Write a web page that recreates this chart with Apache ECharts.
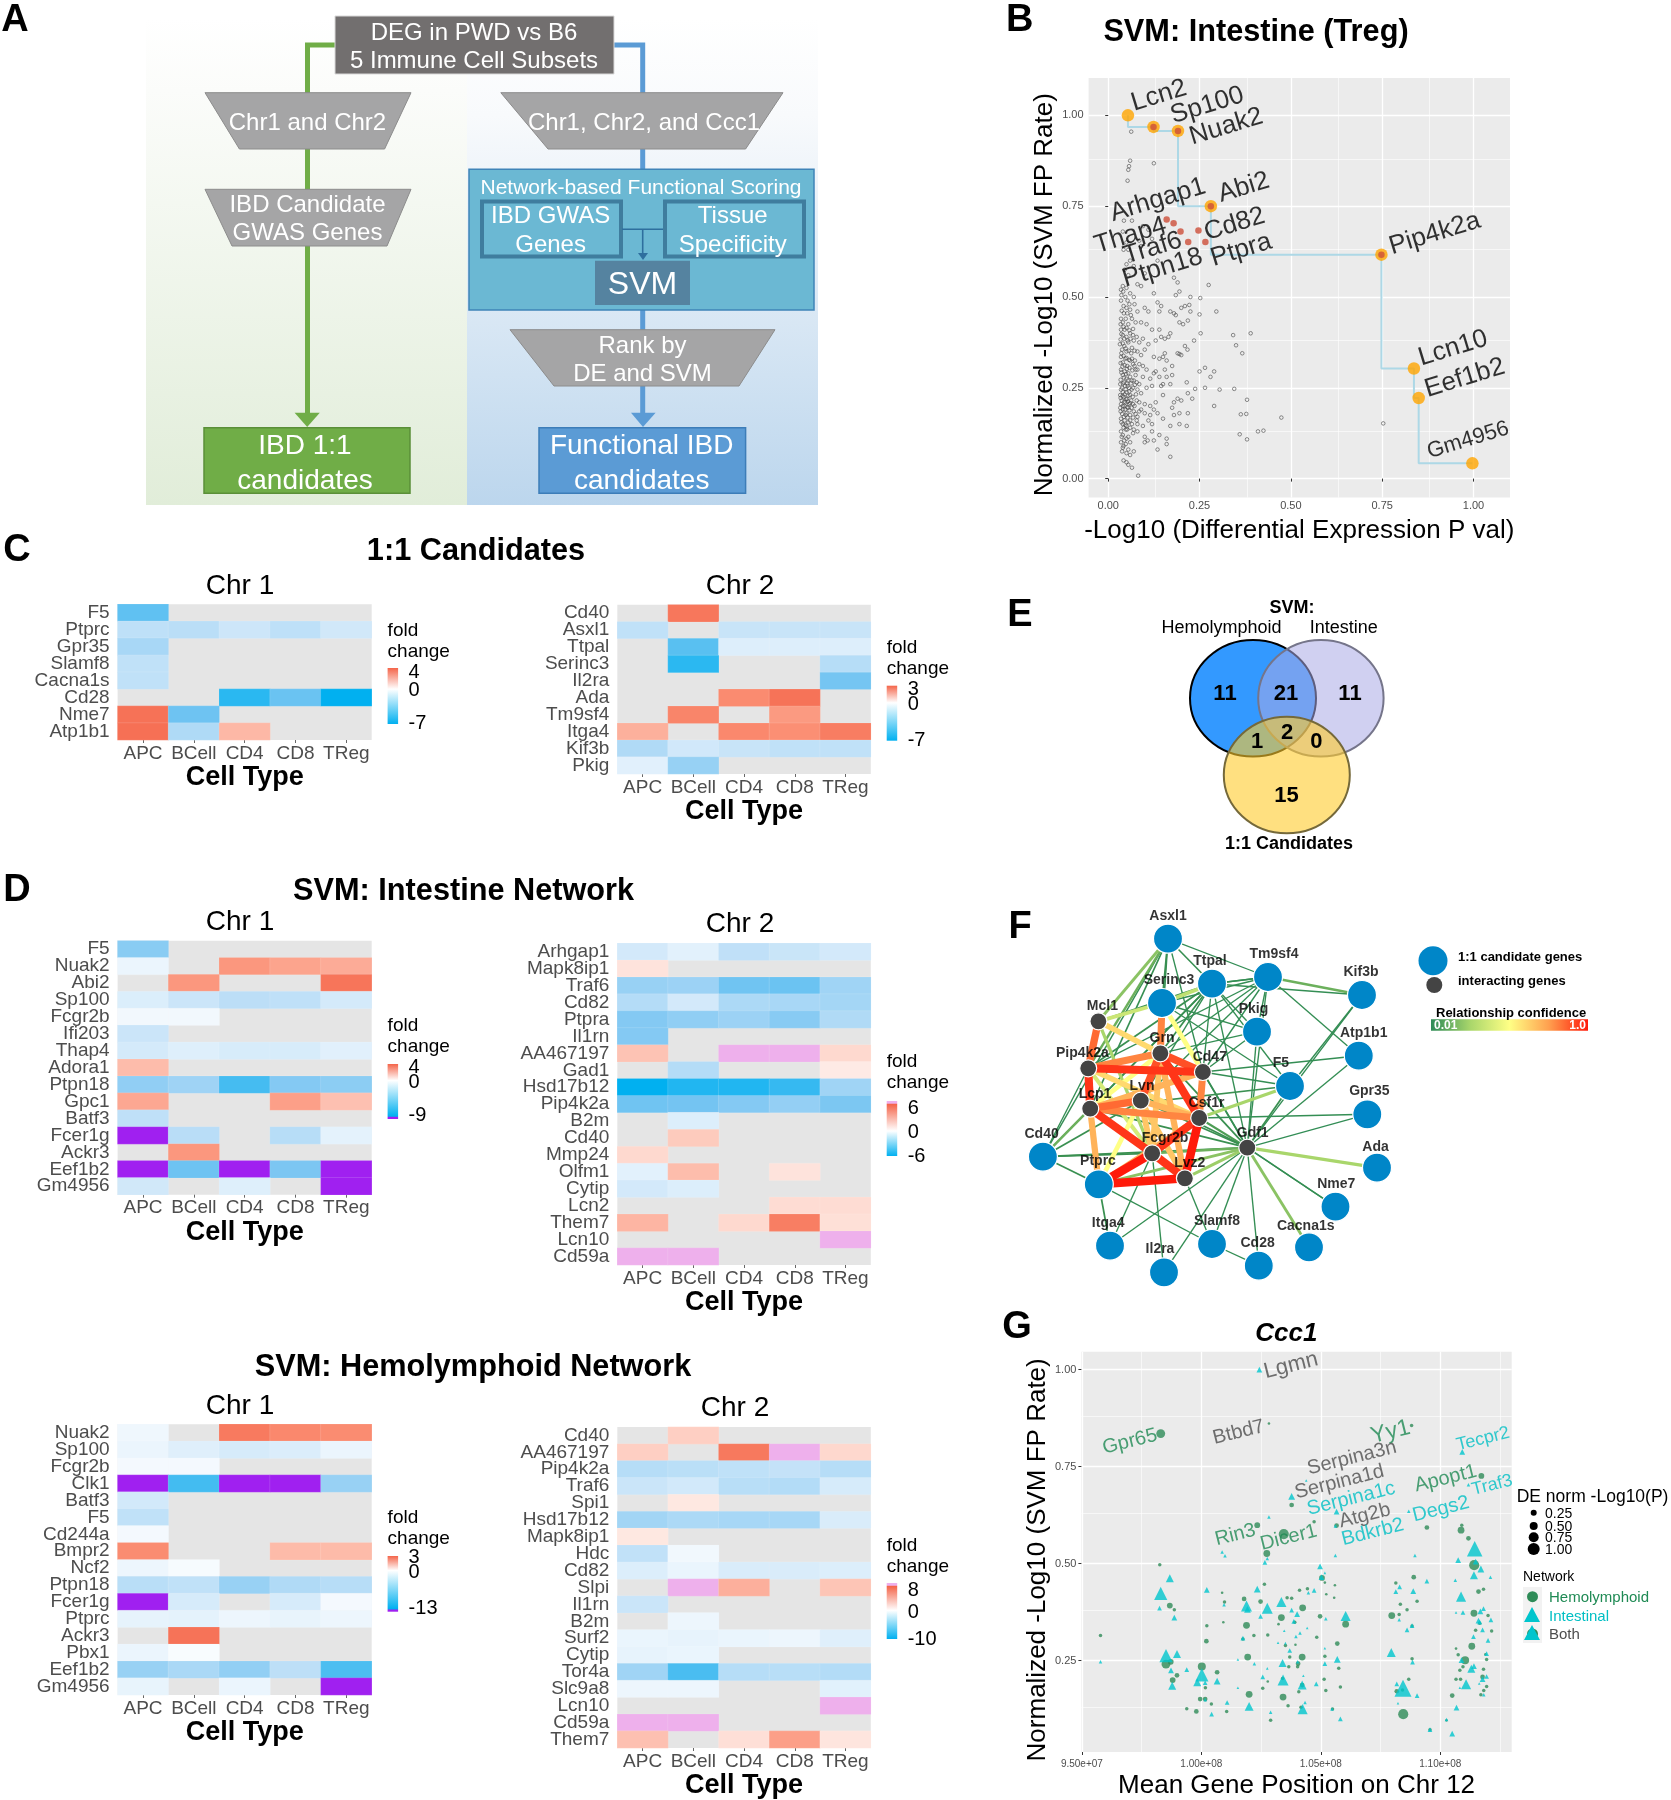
<!DOCTYPE html>
<html><head><meta charset="utf-8"><title>IBD candidates figure</title>
<script src="https://cdn.jsdelivr.net/npm/echarts@6/dist/echarts.min.js"></script>
<style>html,body{margin:0;padding:0;background:#fff}#c{width:1671px;height:1800px}</style>
</head><body><div id="c"></div>
<script>
const N = null;
const cellTypes = ['APC','BCell','CD4','CD8','TReg'];

// ---- C: 1:1 candidates
const c1Genes = ['F5','Ptprc','Gpr35','Slamf8','Cacna1s','Cd28','Nme7','Atp1b1'];
const c1Fold = [[-4.3,N,N,N,N],[-1.6,-1.7,-1.2,-1.6,-1.1],[-2.2,N,N,N,N],[-1.5,N,N,N,N],[-1.5,N,N,N,N],[N,N,-5.8,-4,-7],[3.5,-3.9,N,N,N],[3.6,-2,1.4,N,N]];
const c2Genes = ['Cd40','Asxl1','Ttpal','Serinc3','Il2ra','Ada','Tm9sf4','Itga4','Kif3b','Pkig'];
const c2Fold = [[N,2.5,N,N,N],[-1.5,N,-1.3,-1.3,-1.3],[N,-4.5,-.8,-.8,-.8],[N,-5.8,N,N,-1.8],[N,N,N,N,-3.7],[N,N,1.9,2.6,N],[N,2.1,N,1.6,N],[1.2,N,2,1.8,2.3],[-2,-1.1,-1.3,-1.5,-1.5],[-.7,-2.7,N,N,N]];
// ---- D: intestine network
const d1Genes = ['F5','Nuak2','Abi2','Sp100','Fcgr2b','Ifi203','Thap4','Adora1','Ptpn18','Gpc1','Batf3','Fcer1g','Ackr3','Eef1b2','Gm4956'];
const d1Fold = [[-4,N,N,N,N],[-.6,N,2.2,1.9,1.7],[N,2.2,N,N,3.4],[-1.1,-1.6,-2.1,-2,-1.3],[-.4,-.4,N,N,N],[-1.6,N,N,N,N],[-1.3,-1,-1.2,-1.2,-.9],[1.3,N,N,N,N],[-3.7,-3.2,-6.5,-4.2,-3.9],[1.8,N,N,2,1.2],[-2,N,N,N,N],[-11,-2.2,N,-2.3,-.8],[N,2.2,N,N,N],[-11,-5,-11,-4.5,-11],[-1.4,N,-1,N,-11]];
const d2Genes = ['Arhgap1','Mapk8ip1','Traf6','Cd82','Ptpra','Il1rn','AA467197','Gad1','Hsd17b12','Pip4k2a','B2m','Cd40','Mmp24','Olfm1','Cytip','Lcn2','Them7','Lcn10','Cd59a'];
const d2Fold = [[-.9,-.6,-1.3,-1.1,-.9],[.8,N,N,N,N],[-2.3,-2.2,-3.3,-3.4,-2.1],[-1.6,-.9,-1.8,-1.9,-2],[-2.8,-2.5,-2.2,-2.7,-1.7],[-2.8,N,N,N,N],[1.7,N,8,8,1.1],[N,-1.6,N,N,.6],[-6,-5.2,-5.2,-4.7,-2.1],[-3.3,-3.2,-2.8,-2.4,-3],[N,-.7,N,N,N],[N,1.5,N,N,N],[1.1,N,N,N,N],[-.6,1.9,N,.8,N],[-.9,-.7,N,N,N],[N,N,N,1,1],[2.2,N,1.1,4.6,.9],[N,N,N,N,8],[8,8,N,N,N]];
// ---- D: hemolymphoid network
const h1Genes = ['Nuak2','Sp100','Fcgr2b','Clk1','Batf3','F5','Cd244a','Bmpr2','Ncf2','Ptpn18','Fcer1g','Ptprc','Ackr3','Pbx1','Eef1b2','Gm4956'];
const h1Fold = [[-.7,N,2.4,2,1.9],[-.9,-1.4,-1.8,-1.6,-.9],[-.5,-.5,N,N,N],[-16,-9.5,-16,-16,-5],[-2,N,N,N,N],[-2.8,N,N,N,N],[-.5,N,N,N,N],[1.9,N,N,1,1],[-.8,-.4,N,N,N],[-3.2,-2.8,-5,-3.7,-3.3],[-16,-1.8,N,-1.8,-.5],[-1.1,-1.2,-.8,-1,-.8],[N,2.6,N,N,N],[-.9,-.3,N,N,N],[-5,-4,-5.3,-3,-9],[-1,N,-.9,N,-16]];
const h2Genes = ['Cd40','AA467197','Pip4k2a','Traf6','Spi1','Hsd17b12','Mapk8ip1','Hdc','Cd82','Slpi','Il1rn','B2m','Surf2','Cytip','Tor4a','Slc9a8','Lcn10','Cd59a','Them7'];
const h2Fold = [[N,1.8,N,N,N],[1.8,N,6.5,11,1.5],[-2.6,-2.4,-2.2,-2,-2.6],[-1.8,-1.5,-2.5,-2.7,-1.4],[N,.9,N,N,N],[-3.4,-3,-3.2,-3.2,-1.3],[.9,N,N,N,N],[-2.1,-.5,N,N,N],[-1.2,-.7,-1.3,-1.3,-1.2],[N,11,3.2,N,2.2],[-1.8,N,N,N,N],[N,-.6,N,N,N],[-.7,-.8,-.7,-.6,-1.1],[-.8,-.7,N,N,N],[-3.5,-7,-2.6,-2.5,-2.7],[-.6,-.6,N,N,-1],[N,N,N,N,11],[11,11,N,N,N],[2.4,N,1.2,4,1]];

// ---- B: SVM scatter
const bFrontier = [[.054,1.0],[.124,.968],[.191,.957],[.281,.75],[.748,.6165],[.837,.303],[.85,.222],[.997,.042]];
const bFrontierRed = [[.124,.968],[.191,.957],[.281,.75],[.748,.6165],[.16,.713],[.179,.703],[.198,.68],[.247,.683],[.219,.651],[.266,.651]];
const bLabels = [['Lcn2',.139,1.054],['Sp100',.271,1.027],['Nuak2',.323,.969],['Abi2',.371,.801],['Arhgap1',.136,.767],['Thap4',.061,.669],['Cd82',.346,.70],['Traf6',.122,.634],['Ptpra',.364,.629],['Ptpn18',.149,.58],['Pip4k2a',.894,.674],['Lcn10',.944,.359],['Eef1b2',.976,.277],['Gm4956',.985,.106,null,22]];
const bCloud = [[.063,.955],[.06,.875],[.057,.86],[.055,.85],[.053,.82],[.125,.868],[.043,.71],[.065,.71],[.04,.68],[.095,.695],[.11,.685],[.09,.64],[.05,.65],[.085,.655],[.055,.63],[.042,.63],[.12,.66],[.135,.60],[.06,.60],[.05,.59],[.07,.585],[.045,.575],[.055,.56],[.1,.565],[.18,.553],[.19,.54],[.275,.533],[.04,.53],[.05,.525],[.035,.52],[.06,.51],[.07,.50],[.08,.535],[.09,.53],[.125,.51],[.185,.505],[.195,.515],[.225,.5],[.252,.497],[.135,.485],[.145,.475],[.17,.46],[.18,.455],[.185,.45],[.2,.47],[.21,.475],[.222,.478],[.225,.46],[.25,.452],[.296,.46],[.035,.49],[.042,.475],[.05,.47],[.06,.465],[.072,.48],[.08,.46],[.1,.47],[.11,.46],[.14,.46],[.035,.44],[.04,.43],[.048,.44],[.055,.425],[.065,.44],[.075,.43],[.09,.43],[.105,.425],[.12,.41],[.14,.41],[.145,.39],[.155,.385],[.165,.39],[.17,.4],[.195,.43],[.205,.425],[.218,.435],[.253,.4],[.342,.395],[.39,.4],[.35,.367],[.367,.345],[.21,.365],[.217,.355],[.235,.38],[.035,.41],[.04,.395],[.045,.41],[.05,.39],[.06,.4],[.07,.38],[.078,.39],[.085,.375],[.095,.385],[.11,.37],[.13,.38],[.032,.37],[.038,.355],[.044,.365],[.05,.35],[.055,.375],[.065,.36],[.08,.35],[.09,.34],[.1,.355],[.125,.335],[.14,.33],[.15,.335],[.155,.345],[.16,.325],[.19,.345],[.195,.343],[.2,.34],[.035,.335],[.04,.32],[.047,.33],[.052,.31],[.06,.325],[.068,.315],[.075,.3],[.085,.315],[.095,.31],[.105,.3],[.13,.295],[.14,.28],[.155,.3],[.175,.31],[.265,.305],[.25,.295],[.29,.295],[.035,.3],[.04,.285],[.045,.295],[.05,.275],[.055,.29],[.06,.28],[.065,.27],[.075,.285],[.085,.26],[.095,.28],[.115,.275],[.125,.29],[.16,.28],[.175,.285],[.28,.28],[.033,.26],[.038,.25],[.043,.265],[.048,.245],[.053,.255],[.058,.24],[.068,.25],[.08,.245],[.09,.235],[.105,.25],[.12,.255],[.145,.255],[.15,.26],[.17,.26],[.215,.265],[.265,.25],[.238,.247],[.305,.245],[.345,.247],[.033,.23],[.037,.215],[.042,.225],[.047,.21],[.052,.22],[.057,.205],[.063,.215],[.072,.2],[.085,.21],[.1,.205],[.115,.2],[.13,.21],[.15,.23],[.18,.21],[.19,.22],[.2,.215],[.218,.235],[.23,.22],[.38,.217],[.033,.195],[.04,.19],[.045,.2],[.05,.18],[.055,.195],[.06,.175],[.07,.185],[.08,.17],[.09,.19],[.1,.18],[.115,.175],[.125,.19],[.135,.18],[.175,.195],[.18,.175],[.195,.18],[.29,.2],[.218,.18],[.363,.177],[.378,.178],[.474,.168],[.035,.165],[.04,.15],[.045,.16],[.05,.145],[.055,.155],[.065,.15],[.08,.15],[.095,.145],[.11,.16],[.12,.15],[.15,.165],[.17,.145],[.195,.15],[.215,.145],[.753,.152],[.035,.13],[.04,.12],[.048,.135],[.055,.115],[.068,.125],[.08,.13],[.1,.115],[.108,.105],[.12,.13],[.14,.12],[.16,.11],[.36,.122],[.41,.13],[.425,.132],[.38,.108],[.035,.1],[.04,.085],[.048,.095],[.055,.08],[.07,.075],[.1,.1],[.125,.105],[.16,.095],[.135,.08],[.17,.06],[.042,.05],[.05,.045],[.06,.065],[.065,.03],[.082,.008],[.055,.038],
[.036,.505],[.041,.515],[.047,.5],[.053,.49],[.058,.48],[.043,.455],[.037,.462],[.052,.455],[.062,.45],[.034,.425],[.042,.418],[.05,.415],[.058,.408],[.068,.412],[.036,.398],[.044,.385],[.053,.38],[.061,.385],[.068,.395],[.034,.383],[.04,.372],[.048,.358],[.056,.352],[.063,.345],[.072,.352],[.036,.345],[.042,.338],[.05,.332],[.057,.327],[.065,.33],[.073,.325],[.034,.318],[.039,.308],[.045,.312],[.051,.302],[.058,.305],[.066,.298],[.072,.31],[.08,.3],[.036,.292],[.043,.278],[.049,.288],[.054,.27],[.062,.262],[.07,.27],[.078,.265],[.034,.272],[.04,.262],[.046,.255],[.052,.262],[.057,.25],[.064,.245],[.073,.258],[.035,.245],[.04,.238],[.045,.232],[.05,.238],[.055,.228],[.06,.23],[.067,.225],[.076,.232],[.034,.222],[.039,.228],[.044,.212],[.049,.218],[.054,.212],[.06,.208],[.068,.205],[.078,.215],[.035,.205],[.04,.2],[.046,.19],[.052,.197],[.058,.188],[.064,.195],[.075,.178],[.085,.185],[.034,.185],[.038,.178],[.043,.17],[.048,.175],[.053,.168],[.06,.16],[.068,.168],[.078,.16],[.036,.155],[.042,.14],[.047,.148],[.052,.135],[.06,.14],[.07,.135],[.037,.115],[.044,.105],[.05,.11],[.06,.1],[.042,.09],[.038,.075],[.05,.07]];

// ---- F: network
const fNodes = [['Asxl1',168,48.7,1],['Ttpal',212,93.7,1],['Tm9sf4',268,87,1],['Serinc3',162,113,1],['Kif3b',362,105,1],['Pkig',257,141.7,1],['Atp1b1',358.8,165.7,1],['F5',290,196,1],['Gpr35',367.3,224.3,1],['Ada',377,277.7,1],['Cd40',42.9,266.7,1],['Ptprc',98.8,294.3,1],['Nme7',335.5,316.7,1],['Itga4',110,355.7,1],['Il2ra',164,382.3,1],['Slamf8',212,354,1],['Cd28',258.8,375.7,1],['Cacna1s',309,357.3,1],['Mcl1',98.4,131.3,0],['Grn',160.4,163.3,0],['Pip4k2a',88.2,178.3,0],['Cd47',202.9,182,0],['Lvn',140.8,210.7,0],['Lcp1',90.2,218.7,0],['Csf1r',199.2,228,0],['Gdf1',247.3,257.7,0],['Fcgr2b',152.2,263.3,0],['Lvz2',184.9,288.3,0]];
const fLabels = [['Asxl1',168,26],['Ttpal',210,70.7],['Tm9sf4',274,64],['Serinc3',169,90],['Kif3b',361,82],['Pkig',253.5,119],['Mcl1',102.4,116],['Atp1b1',363.7,143.3],['Grn',162,148],['Pip4k2a',82.4,163.3],['Cd47',209.8,166.7],['F5',280.8,172.7],['Gpr35',369.4,201.3],['Lcp1',95,204],['Lvn',142,195.7],['Csf1r',206.5,213.3],['Gdf1',252.7,242.7],['Cd40',41.6,243.7],['Fcgr2b',165,248.3],['Ada',375.5,256.7],['Ptprc',98,271.3],['Lvz2',189.8,273.3],['Nme7',336.3,294],['Itga4',108.2,333],['Slamf8',217,331],['Cacna1s',305.7,336],['Cd28',257.6,352.7],['Il2ra',160,359.3]];
const fEdges = [['Gdf1','Nme7',.08],['Gdf1','Nme7',.05],['Gdf1','Cd28',.05],['Gdf1','Il2ra',.05],['Gdf1','Itga4',.05],['Gdf1','Csf1r',.15],['Gdf1','Cd40',.1],['Gdf1','Grn',.1],['Gdf1','Lcp1',.1],['Gdf1','Pip4k2a',.1],['Gdf1','Lvn',.1],['Gdf1','Atp1b1',.05],['Gdf1','Gpr35',.03],['Gdf1','Kif3b',.04],['Gdf1','Cd47',.1],['Gdf1','Ttpal',.05],['Gdf1','Serinc3',.05],['Gdf1','Pkig',.05],['Gdf1','Slamf8',.05],['Gdf1','Tm9sf4',.05],['Gdf1','F5',.1],
['Asxl1','Serinc3',.1],['Asxl1','Ttpal',.08],['Asxl1','Tm9sf4',.04],['Asxl1','Cd40',.06],['Asxl1','Grn',.08],['Asxl1','Cd47',.05],['Asxl1','Lcp1',.08],['Ttpal','Kif3b',.05],['Ttpal','Tm9sf4',.05],['Ttpal','Tm9sf4',.06],['Ttpal','Mcl1',.1],['Ttpal','Pkig',.05],['Ttpal','Pip4k2a',.1],['Ttpal','Lcp1',.1],['Ttpal','Grn',.1],['Ttpal','Lvn',.05],['Ttpal','Cd47',.05],['Ttpal','F5',.05],['Ttpal','Cd40',.08],['Tm9sf4','Kif3b',.2],['Tm9sf4','Pkig',.05],['Tm9sf4','Atp1b1',.05],['Tm9sf4','Grn',.05],['Tm9sf4','Lvn',.05],['Tm9sf4','Serinc3',.05],['Tm9sf4','Pip4k2a',.05],['Tm9sf4','Cd47',.05],['Kif3b','F5',.05],['Pkig','Cd47',.05],['Pkig','Serinc3',.05],['Pkig','Grn',.05],['F5','Cd47',.05],['F5','Serinc3',.05],['F5','Lcp1',.1],['Atp1b1','Cd47',.05],['Gpr35','Csf1r',.05],['Cd40','Pip4k2a',.05],['Cd40','Ptprc',.1],['Cd40','Fcgr2b',.1],['Cd40','Lvn',.1],['Ptprc','Itga4',.1],['Ptprc','Slamf8',.05],['Itga4','Fcgr2b',.05],['Il2ra','Fcgr2b',.05],['Slamf8','Lvz2',.05],['Slamf8','Cd28',.05],
['Gdf1','Fcgr2b',.2],['Gdf1','Lvz2',.28],['Gdf1','Ptprc',.25],['Gdf1','Cacna1s',.25],['Gdf1','Ada',.3],['Cd40','Lcp1',.2],['Asxl1','Pip4k2a',.2],['Asxl1','Mcl1',.25],['Ttpal','Serinc3',.35],['F5','Csf1r',.3],['Mcl1','Serinc3',.38],['Mcl1','Fcgr2b',.3],['Pip4k2a','Fcgr2b',.4],['Grn','Lcp1',.5],['Lvn','Ptprc',.5],['Serinc3','Cd47',.5],['Mcl1','Grn',.6],['Pip4k2a','Csf1r',.6],['Lvn','Fcgr2b',.65],['Lvn','Lvz2',.65],['Grn','Fcgr2b',.65],['Grn','Lvz2',.7],['Lvn','Csf1r',.7],['Lcp1','Ptprc',.7],['Ptprc','Csf1r',.7],['Cd47','Lcp1',.7],['Pip4k2a','Grn',.8],['Cd47','Csf1r',.8],['Serinc3','Grn',.8],['Lcp1','Csf1r',.8],['Mcl1','Pip4k2a',.85],['Lcp1','Lvn',.85],['Grn','Cd47',.9],['Grn','Lvn',.9],['Pip4k2a','Cd47',.95],['Pip4k2a','Lcp1',.95],['Lcp1','Fcgr2b',.95],['Grn','Csf1r',.95],['Csf1r','Fcgr2b',.95],['Fcgr2b','Lvz2',.95],['Csf1r','Lvz2',1],['Fcgr2b','Ptprc',1],['Lvz2','Ptprc',1]];

// ---- G: Ccc1, [position Mb, normalized -log10 FP rate, DE norm]
const gHemo = [[98.30,.835,.46],[108.80,.856,.1],[102.83,.861,.04],[111.72,.726,.25],[102.34,.599,.25],[102.74,.526,.32],[103.45,.576,.54],[103.78,.651,.18],[104.72,.608,.1],[105.66,.598,.18],[109.44,.593,.18],[110.90,.599,.1],[110.87,.586,.32],[111.18,.565,.18],[111.42,.496,.54],[98.26,.497,.1],[108.89,.465,.18],[108.14,.450,.1],[102.64,.447,.1],[101.79,.409,.18],[100.87,.425,.04],[111.81,.434,.1],[111.60,.428,.18],[105.05,.463,.25],[105.17,.451,.04],[105.59,.444,.04],[105.23,.421,.04],[105.56,.412,.04],[104.44,.435,.1],[104.11,.431,.1],[103.59,.412,.1],[103.78,.411,.1],[104.24,.386,.32],[103.35,.361,.32],[104.97,.364,.18],[102.48,.402,.18],[100.97,.401,.1],[98.68,.392,.25],[98.87,.381,.1],[108.33,.395,.1],[108.61,.381,.1],[107.97,.366,.32],[108.28,.369,.1],[109.03,.403,.1],[111.41,.372,.32],[112.0,.366,.1],[111.48,.328,.1],[111.65,.346,.1],[106.04,.344,.32],[101.89,.341,.32],[100.23,.340,.1],[100.92,.349,.04],[103.91,.349,.1],[103.23,.344,.04],[108.82,.339,.1],[112.15,.326,.1],[100.21,.300,.18],[101.74,.306,.1],[102.20,.315,.1],[102.78,.316,.1],[104.83,.310,.1],[105.69,.294,.18],[95.78,.315,.1],[103.52,.289,.1],[103.94,.291,.04],[111.32,.287,.32],[110.66,.281,.04],[101.94,.259,.32],[104.22,.259,.32],[103.70,.259,.1],[105.17,.261,.1],[108.82,.255,.1],[110.75,.265,.1],[111.04,.251,.4],[111.94,.253,.1],[111.89,.266,.04],[98.52,.241,.46],[98.72,.247,.25],[100.02,.235,.4],[100.66,.220,.18],[98.98,.212,.18],[98.80,.200,.25],[104.05,.242,.18],[103.66,.234,.1],[104.03,.234,.1],[105.75,.230,.1],[110.95,.234,.1],[111.81,.228,.1],[110.82,.225,.1],[100.17,.180,.1],[99.95,.151,.18],[100.16,.151,.18],[100.42,.138,.1],[99.39,.126,.1],[99.79,.119,.18],[101.06,.119,.1],[102.0,.163,.32],[103.42,.156,.32],[103.40,.204,.1],[104.08,.170,.1],[103.63,.134,.1],[104.17,.130,.1],[104.22,.187,.18],[102.57,.179,.1],[102.78,.196,.04],[105.14,.202,.1],[105.21,.173,.1],[105.82,.182,.1],[105.49,.125,.1],[108.68,.202,.1],[108.18,.171,.18],[110.50,.160,.18],[110.66,.202,.1],[110.85,.202,.1],[111.77,.208,.18],[111.94,.183,.1],[111.82,.173,.1],[111.70,.162,.1],[108.45,.112,.54],[102.90,.096,.1],[110.26,.096,.04],[109.57,.072,.1],[108.42,.174,.1]];
const gIntest = [[102.43,1.0,.25],[110.92,.788,.25],[111.18,.703,.1],[103.78,.673,.32],[102.83,.620,.1],[104.39,.714,.04],[105.66,.634,.25],[108.68,.635,.1],[105.61,.597,.1],[100.87,.530,.1],[100.99,.520,.1],[102.76,.513,.1],[102.66,.503,.18],[105.61,.521,.1],[108.94,.521,.1],[111.44,.538,.9],[110.75,.509,.25],[111.48,.505,.25],[111.70,.486,.32],[111.41,.470,.4],[112.10,.465,.1],[110.63,.457,.1],[104.97,.493,.25],[98.68,.462,.4],[98.30,.423,.75],[98.25,.385,.18],[98.87,.361,.25],[105.17,.476,.04],[105.03,.465,.25],[109.44,.455,.18],[100.23,.432,.25],[104.72,.431,.18],[104.48,.425,.1],[102.34,.434,.32],[108.14,.428,.18],[108.30,.440,.18],[108.87,.429,.25],[110.87,.415,.54],[101.89,.391,.6],[101.93,.382,.32],[102.76,.385,.6],[103.35,.401,.54],[103.78,.380,.18],[104.01,.370,.25],[103.87,.351,.18],[102.48,.364,.18],[100.95,.394,.1],[105.21,.358,.1],[106.04,.365,.54],[110.66,.374,.04],[110.95,.374,.18],[111.68,.377,.25],[111.81,.384,.18],[111.60,.353,.25],[112.12,.355,.18],[111.65,.349,.18],[108.28,.355,.1],[108.61,.329,.18],[108.82,.340,.18],[111.77,.329,.18],[111.39,.312,.18],[112.0,.302,.18],[104.43,.334,.04],[104.13,.321,.1],[103.47,.327,.04],[103.96,.312,.1],[101.74,.308,.18],[103.21,.296,.04],[103.52,.295,.04],[103.70,.276,.18],[105.17,.282,.04],[107.95,.271,.46],[98.98,.267,.4],[98.52,.263,.75],[95.78,.247,.1],[101.53,.253,.04],[102.22,.242,.1],[103.40,.244,.4],[102.76,.230,.04],[104.03,.247,.1],[105.17,.242,.18],[105.69,.253,.32],[110.89,.251,.25],[111.41,.236,.25],[111.30,.229,.4],[111.94,.268,.18],[108.84,.246,.18],[98.73,.225,.25],[99.39,.227,.18],[100.02,.213,.75],[99.83,.194,.4],[100.16,.193,.18],[100.66,.197,.32],[98.78,.185,.4],[102.57,.208,.18],[103.42,.200,.6],[104.27,.211,.04],[104.22,.187,.46],[104.81,.190,.18],[101.53,.180,.04],[108.18,.190,.18],[108.44,.179,1],[109.03,.160,.18],[111.08,.189,.54],[111.77,.202,.25],[111.94,.209,.18],[110.82,.180,.04],[101.08,.142,.18],[100.16,.149,.1],[102.0,.132,.46],[100.43,.112,.18],[102.90,.117,.1],[104.24,.125,.54],[105.47,.125,.1],[104.34,.142,.1],[108.23,.140,.04],[110.68,.129,.25],[111.82,.162,.1],[105.82,.100,.18],[110.26,.098,.1],[109.57,.072,.18],[110.50,.062,.25],[111.63,.191,.04]];
const GTXT='#1f8a54', TTXT='#00bfc4', DTXT='#4d4d4d';
const gLabels = [['Lgmn',103.75,1.01,DTXT,22],['Btbd7',101.56,.838,DTXT,20],['Gpr65',97.01,.814,GTXT,20],['Yy1',107.92,.839,GTXT,23],['Serpina3n',106.30,.772,DTXT,20],['Tecpr2',111.79,.821,TTXT,18],['Serpina1d',105.78,.71,DTXT,20],['Apopt1',110.23,.719,GTXT,20],['Traf3',112.17,.702,TTXT,18],['Serpina1c',106.27,.667,TTXT,20],['Atg2b',106.84,.623,DTXT,20],['Degs2',110.03,.64,TTXT,20],['Rin3',101.42,.574,GTXT,20],['Dicer1',103.66,.567,GTXT,20],['Bdkrb2',107.17,.581,TTXT,20]];

// ---- layout of heat panels
const FONT = '"Liberation Sans"';
const BLUES=[[0,[255,255,255]],[.2,[196,226,248]],[.5,[124,198,242]],[1,[0,176,240]]];
const REDS=[[0,[255,255,255]],[.3,[253,192,176]],[.6,[251,143,116]],[1,[244,101,74]]];
const PINK='#eeb0ec', PURPLE='#a020f0', REDEND='rgb(244,101,74)', BLUEEND='rgb(0,176,240)';
const mix=(a,b,t)=>'rgb('+a.map((v,i)=>Math.round(v+(b[i]-v)*t)).join(',')+')';
function ramp(s,t){ for(let i=1;i<s.length;i++) if(t<=s[i][0]) return mix(s[i-1][1],s[i][1],(t-s[i-1][0])/(s[i][0]-s[i-1][0])); return mix(s[s.length-1][1],s[s.length-1][1],0); }
function colourAt(v,p){
  if(v>=0){ if(p.pink && v>p.hi+.6) return PINK; return ramp(REDS,Math.min(v/p.hi,1)); }
  if(p.purple && v<p.lo-.8) return PURPLE; return ramp(BLUES,Math.min(v/p.lo,1));
}
const panels = [
 {genes:c1Genes,fold:c1Fold,x:117.6,y:604.3,w:254.1,h:135.7,hi:4,lo:-7,barX:387.6,barY:668,barH:56,zf:.377,legY:629,ticks:[['4',670.7],['0',689],['-7',721.7]]},
 {genes:c2Genes,fold:c2Fold,x:617.3,y:604.7,w:253.5,h:169.3,hi:3,lo:-7,barX:886.7,barY:685.7,barH:55,zf:.31,legY:646,ticks:[['3',688],['0',702.7],['-7',739.3]]},
 {genes:d1Genes,fold:d1Fold,x:117.6,y:940.7,w:254.1,h:254,hi:4,lo:-9,purple:1,barX:387.6,barY:1064,barH:55,zf:.30,legY:1024,ticks:[['4',1066],['0',1080.7],['-9',1114.3]]},
 {genes:d2Genes,fold:d2Fold,x:617.3,y:943.3,w:253.5,h:321.7,hi:6,lo:-6,pink:1,barX:886.7,barY:1101,barH:55,zf:.545,legY:1060.7,ticks:[['6',1106.7],['0',1131],['-6',1155]]},
 {genes:h1Genes,fold:h1Fold,x:117.6,y:1424.3,w:254.1,h:270.7,hi:3,lo:-13,purple:1,barX:387.6,barY:1556,barH:55.7,zf:.26,legY:1516.3,ticks:[['3',1555.7],['0',1570.7],['-13',1607.3]]},
 {genes:h2Genes,fold:h2Fold,x:617.3,y:1427,w:253.5,h:321.3,hi:8,lo:-10,pink:1,barX:886.7,barY:1583,barH:56,zf:.49,legY:1544.7,ticks:[['8',1588.7],['0',1610.7],['-10',1637.7]]}
];
const sectionTitles=[['1:1 Candidates',476,549],['SVM: Intestine Network',463.6,889],['SVM: Hemolymphoid Network',473,1365]];
const chrTitles=[['Chr 1',240,584],['Chr 2',740,584],['Chr 1',240,920.7],['Chr 2',740,922],['Chr 1',240,1404],['Chr 2',735,1406]];
const panelLetters=[['A',15,18],['B',1019.6,18],['C',17,548],['D',17,888],['E',1020,613],['F',1020,925],['G',1017,1325]];

// ---- graphic helpers
function T(text,x,y,size,o){o=o||{};
  return {type:'text',x:x,y:y+size*.07,rotation:o.rot||0,silent:true,z:o.z||50,style:{text:text,fill:o.fill||'#000',
    font:(o.italic?'italic ':'')+(o.bold?'bold ':'')+size+'px '+FONT,
    align:o.align||'center',verticalAlign:'middle',textAlign:o.align||'center',textVerticalAlign:'middle'}};
}
const P=(pts,fill,stroke,lw,z)=>({type:'polygon',silent:true,z:z||10,shape:{points:pts},style:{fill:fill,stroke:stroke||null,lineWidth:lw||0}});
const R=(x,y,w,h,fill,stroke,lw,z)=>({type:'rect',silent:true,z:z||10,shape:{x:x,y:y,width:w,height:h},style:{fill:fill,stroke:stroke||null,lineWidth:lw||0}});
const L=(pts,stroke,lw,z)=>({type:'polyline',silent:true,z:z||8,shape:{points:pts},style:{fill:null,stroke:stroke,lineWidth:lw}});
const E=(cx,cy,rx,ry,fill,stroke,lw,z)=>({type:'ellipse',silent:true,z:z,shape:{cx:cx,cy:cy,rx:rx,ry:ry},style:{fill:fill,stroke:stroke,lineWidth:lw}});
const grad=(stops,hor)=>({type:'linear',x:0,y:0,x2:hor?1:0,y2:hor?0:1,colorStops:stops.map(s=>({offset:s[0],color:s[1]}))});

const g=[];
panelLetters.forEach(a=>g.push(T(a[0],a[1],a[2],38,{bold:true})));
sectionTitles.forEach(a=>g.push(T(a[0],a[1],a[2],30.7,{bold:true})));
chrTitles.forEach(a=>g.push(T(a[0],a[1],a[2],28)));
panels.forEach(p=>{
  g.push(T('fold',p.barX,p.legY,19,{align:'left'}),T('change',p.barX,p.legY+21,19,{align:'left'}));
  const stops=[];
  if(p.pink) stops.push([0,PINK],[.04,PINK],[.06,REDEND]); else stops.push([0,REDEND]);
  stops.push([p.zf,'#fff']);
  if(p.purple) stops.push([.95,BLUEEND],[.97,PURPLE],[1,PURPLE]); else stops.push([1,BLUEEND]);
  g.push(R(p.barX,p.barY,10.5,p.barH,grad(stops)));
  p.ticks.forEach(t=>g.push(T(t[0],p.barX+21,t[1],20,{align:'left'})));
});

// panel A
g.push(R(146,18,321,487,grad([[0,'#ffffff'],[.15,'#fbfcfa'],[1,'#e1edd9']]),null,0,1));
g.push(R(467,18,351,487,grad([[0,'#ffffff'],[.2,'#f8fafc'],[1,'#bcd6ed']]),null,0,1));
const GRN='#70ad47', BLU='#5b9bd5', TRP='#a5a5a6';
g.push(L([[335,45],[307.5,45],[307.5,415]],GRN,5),P([[294.6,412.7],[319.8,412.7],[307.2,427]],GRN));
g.push(L([[614,45],[642.7,45],[642.7,415]],BLU,5),P([[631,412.7],[655.6,412.7],[643,427]],BLU));
g.push(R(335,16,279,58,'#726f6f','#d9d9d9',1),T('DEG in PWD vs B6',474,32,24,{fill:'#fff'}),T('5 Immune Cell Subsets',474,60,24,{fill:'#fff'}));
g.push(P([[205,92.7],[411,92.7],[384.6,149],[239.4,149]],TRP,'#8c8c8c',1),T('Chr1 and Chr2',307.5,121.7,24,{fill:'#fff'}));
g.push(P([[205,189.3],[411,189.3],[387,246],[232,246]],TRP,'#8c8c8c',1),T('IBD Candidate',307.5,204,24,{fill:'#fff'}),T('GWAS Genes',307.5,232,24,{fill:'#fff'}));
g.push(P([[500.8,92.7],[783,92.7],[745.6,149],[548,149]],TRP,'#8c8c8c',1),T('Chr1, Chr2, and Ccc1',644,121.7,24,{fill:'#fff'}));
g.push(R(469,169.3,345,140.7,'#6bb8d3','#3f84b8',1.5,12),T('Network-based Functional Scoring',641,186.7,21,{fill:'#fff'}));
g.push(R(482,201.5,139,55,'#6bb8d3','#3f7d9e',4,13),T('IBD GWAS',550.6,215,24,{fill:'#fff'}),T('Genes',550.6,243.3,24,{fill:'#fff'}));
g.push(R(665,201.5,139,55,'#6bb8d3','#3f7d9e',4,13),T('Tissue',732.7,215,24,{fill:'#fff'}),T('Specificity',732.7,243.3,24,{fill:'#fff'}));
g.push(L([[622,229.3],[663,229.3]],'#2e6f9e',1.6,14),L([[642.7,229.3],[642.7,255]],'#2e6f9e',1.6,14),P([[638,253],[648,253],[643,260]],'#2e6f9e',null,0,14));
g.push(R(595,260.7,95,44.3,'#5583a0',null,0,13),T('SVM',642.5,283,32,{fill:'#fff'}));
g.push(P([[510,329.7],[775,329.7],[739,386],[554,386]],TRP,'#8c8c8c',1),T('Rank by',642.5,345,24,{fill:'#fff'}),T('DE and SVM',642.5,372.7,24,{fill:'#fff'}));
g.push(R(204,427.7,206,65.6,GRN,'#5a8f38',1.5),T('IBD 1:1',305,444,28,{fill:'#fff'}),T('candidates',305,479,28,{fill:'#fff'}));
g.push(R(539,427.7,206.6,65.6,BLU,'#3d7db8',1.5),T('Functional IBD',641.7,444,28,{fill:'#fff'}),T('candidates',641.7,479,28,{fill:'#fff'}));

g.push(T('SVM: Intestine (Treg)',1256,30,30.7,{bold:true}));

// panel E: Venn
g.push(E(1253,698.3,63,58.3,'#3399ff','#000',2,20));
g.push(E(1320.9,698.3,62.7,58.3,'rgba(170,170,230,.55)','#75758a',2,21));
g.push(E(1286.8,775,63,58.3,'rgba(255,203,43,.6)','#75693a',2,22));
[['11',1225,692.7],['21',1286,692.7],['11',1350,692.7],['1',1257,740.7],['2',1287,731.7],['0',1316.3,740.7],['15',1286.5,794]].forEach(a=>g.push(T(a[0],a[1],a[2],22,{bold:true})));
g.push(T('SVM:',1292,606.7,18,{bold:true}),T('Hemolymphoid',1221.6,627,18),T('Intestine',1343.7,627,18),T('1:1 Candidates',1289,843,18,{bold:true}));

// panel F legend
const ecol=[[0,'#2e8b57'],[.25,'#a9d66b'],[.5,'#ffff85'],[.75,'#ffa04f'],[1,'#ff1a0a']];
g.push({type:'circle',silent:true,z:20,shape:{cx:1433,cy:960.7,r:14.5},style:{fill:'#0086c8'}});
g.push({type:'circle',silent:true,z:20,shape:{cx:1434.3,cy:985,r:8},style:{fill:'#444'}});
g.push(T('1:1 candidate genes',1458,956.7,13,{bold:true,align:'left'}),T('interacting genes',1458,981,13,{bold:true,align:'left'}),T('Relationship confidence',1436,1012.3,13,{bold:true,align:'left'}));
g.push(R(1431,1019.3,157,11.4,grad(ecol,true),null,0,20),T('0.01',1434,1025,12,{bold:true,align:'left',fill:'#fff'}),T('1.0',1586,1025,12,{bold:true,align:'right',fill:'#fff'}));

// panel G heading & legends
g.push(T('Ccc1',1286.4,1331.7,26,{bold:true,italic:true}));
g.push(T('DE norm -Log10(P)',1516.7,1496,17.5,{align:'left'}));
[['0.25',1512.7,3],['0.50',1526,4],['0.75',1537.3,5],['1.00',1549,6]].forEach(a=>{
  g.push({type:'circle',silent:true,z:20,shape:{cx:1533.7,cy:a[1],r:a[2]},style:{fill:'#000'}});
  g.push(T(a[0],1545,a[1],14,{align:'left'}));
});
g.push(T('Network',1523,1575.7,14,{align:'left'}),R(1523,1587,19,56,'#f2f2f2',null,0,19));
g.push({type:'circle',silent:true,z:20,shape:{cx:1532.5,cy:1596.7,r:5.5},style:{fill:'#2e8b57'}});
g.push(P([[1532,1607],[1540,1622],[1524,1622]],'#00c5cd',null,0,20));
g.push({type:'circle',silent:true,z:20,shape:{cx:1532.5,cy:1634,r:5.5},style:{fill:'#2e8b57'}});
g.push(P([[1532,1625],[1540,1640],[1524,1640]],'#00c5cd',null,0,21));
g.push(T('Hemolymphoid',1549,1596.7,15,{align:'left',fill:GTXT}),T('Intestinal',1549,1616,15,{align:'left',fill:TTXT}),T('Both',1549,1634,15,{align:'left',fill:DTXT}));

// ---- option pieces
const grids=[],xAxes=[],yAxes=[],series=[],visualMaps=[];
panels.forEach((p,i)=>{
  grids.push({left:p.x,top:p.y,width:p.w,height:p.h,show:true,backgroundColor:'#e5e5e5',borderWidth:0,containLabel:false});
  xAxes.push({gridIndex:i,type:'category',data:cellTypes,axisLine:{show:false},axisTick:{show:true,length:3,alignWithLabel:true,lineStyle:{color:'#666'}},
    axisLabel:{interval:0,margin:4,fontSize:19,color:'#4d4d4d',fontFamily:FONT,hideOverlap:false},splitLine:{show:false},splitArea:{show:false},
    name:'Cell Type',nameLocation:'middle',nameGap:24,nameTextStyle:{fontSize:27,fontWeight:'bold',color:'#000',fontFamily:FONT}});
  yAxes.push({gridIndex:i,type:'category',inverse:true,data:p.genes,axisLine:{show:false},axisTick:{show:false},
    axisLabel:{interval:0,margin:8,fontSize:19,color:'#4d4d4d',fontFamily:FONT,hideOverlap:false,padding:[2,0,0,0]},splitLine:{show:false},splitArea:{show:false}});
  const cells=[];
  p.fold.forEach((row,r)=>row.forEach((v,c)=>{ if(v!==null) cells.push([c,r,v]); }));
  series.push({type:'heatmap',xAxisIndex:i,yAxisIndex:i,data:cells,silent:true,itemStyle:{borderColor:'rgba(255,255,255,.25)',borderWidth:.5},emphasis:{disabled:true},progressive:0});
  const lo=p.lo-10, hi=p.hi+6, cols=[];
  for(let k=0;k<=320;k++) cols.push(colourAt(lo+(hi-lo)*k/320,p));
  visualMaps.push({type:'continuous',show:false,seriesIndex:i,dimension:2,min:lo,max:hi,inRange:{color:cols}});
});
const labelSeries=(gi,items,base)=>({type:'scatter',xAxisIndex:gi,yAxisIndex:gi,silent:true,z:30,symbolSize:1,itemStyle:{color:'transparent'},
  labelLayout:{hideOverlap:false},
  data:items.map(it=>({value:[it[1],it[2]],label:{show:true,formatter:it[0],position:'inside',align:'center',verticalAlign:'middle',fontFamily:FONT,
    rotate:base.rotate||0,fontSize:it[4]||base.size,color:it[3]||base.color,fontWeight:base.weight||'normal'}}))});

// panel B
const gtick=(vals,fmt,m)=>({axisTick:{show:true,length:3,customValues:vals,lineStyle:{color:'#333'}},axisLabel:{customValues:vals,formatter:fmt,fontSize:11,color:'#4d4d4d',fontFamily:FONT,margin:m||5,showMinLabel:true,showMaxLabel:true}});
const minorLines=(axis,vals)=>vals.map(v=>({[axis]:v}));
const B=6, F=7, G=8;
grids.push({left:1088.6,top:77.9,width:421.4,height:419.6,show:true,backgroundColor:'#ebebeb',borderWidth:0});
const bTicks=[0,.25,.5,.75,1];
xAxes.push(Object.assign({gridIndex:B,type:'value',min:-.0537,max:1.1,axisLine:{show:false},splitLine:{show:true,lineStyle:{color:'#fff',width:1.3}},
  name:'-Log10 (Differential Expression P val)',nameLocation:'middle',nameGap:20,nameTextStyle:{fontSize:26,color:'#000',fontFamily:FONT}},gtick(bTicks,v=>v.toFixed(2),3)));
yAxes.push(Object.assign({gridIndex:B,type:'value',min:-.052,max:1.103,axisLine:{show:false},splitLine:{show:true,lineStyle:{color:'#fff',width:1.3}},
  name:'Normalized -Log10 (SVM FP Rate)',nameLocation:'middle',nameGap:31,nameTextStyle:{fontSize:26,color:'#000',fontFamily:FONT,padding:[0,14,0,0]}},gtick(bTicks,v=>v.toFixed(2))));
series.push({type:'scatter',xAxisIndex:B,yAxisIndex:B,silent:true,z:3,data:bCloud,symbolSize:3.6,itemStyle:{color:'rgba(0,0,0,0)',borderColor:'#444',borderWidth:.7,opacity:.85},
  markLine:{silent:true,symbol:'none',label:{show:false},animation:false,z:1,lineStyle:{color:'#fff',width:.6,type:'solid'},
   data:minorLines('xAxis',[.125,.375,.625,.875]).concat(minorLines('yAxis',[.125,.375,.625,.875]))}});
series.push({type:'line',xAxisIndex:B,yAxisIndex:B,silent:true,z:4,data:bFrontier,step:'start',showSymbol:false,lineStyle:{color:'#add8e6',width:2}});
series.push({type:'scatter',xAxisIndex:B,yAxisIndex:B,silent:true,z:5,data:bFrontier,symbolSize:12.5,itemStyle:{color:'#ffa500'}});
series.push({type:'scatter',xAxisIndex:B,yAxisIndex:B,silent:true,z:6,data:bFrontierRed,symbolSize:6.5,itemStyle:{color:'#cd4f39'}});
series.push(labelSeries(B,bLabels,{size:26,color:'#000',rotate:17}));

// panel F
grids.push({left:1000,top:890,width:640,height:410,show:false});
xAxes.push({gridIndex:F,type:'value',min:0,max:640,show:false});
yAxes.push({gridIndex:F,type:'value',min:0,max:410,inverse:true,show:false});
const EDGE=[[0,[46,139,87]],[.12,[60,145,80]],[.3,[169,214,107]],[.5,[255,255,133]],[.75,[255,160,79]],[1,[255,26,10]]];
series.push({type:'graph',coordinateSystem:'cartesian2d',xAxisIndex:F,yAxisIndex:F,layout:'none',silent:true,z:10,roam:false,
  data:fNodes.map(n=>({name:n[0],value:[n[1],n[2]],symbolSize:n[3]?29:17,itemStyle:{color:n[3]?'#0086c8':'#444',borderColor:'#fff',borderWidth:1.2},label:{show:false}})),
  links:fEdges.map(e=>({source:e[0],target:e[1],lineStyle:{color:ramp(EDGE,e[2]),width:1+e[2]*7.5,opacity:1,curveness:0}})),
  emphasis:{disabled:true}});
series.push(labelSeries(F,fLabels,{size:14,color:'#000',weight:'bold'}));

// panel G
grids.push({left:1081.4,top:1351.7,width:430.3,height:404.3,show:true,backgroundColor:'#ebebeb',borderWidth:0});
const sci=v=>(v*1e6).toExponential(2).replace('e+','e+0');
const gx=gtick([95,100,105,110],sci,7); gx.axisLabel.fontSize=10;
xAxes.push(Object.assign({gridIndex:G,type:'value',min:94.98,max:112.99,axisLine:{show:false},splitLine:{show:true,lineStyle:{color:'#fff',width:1.3}},
  name:'Mean Gene Position on Chr 12',nameLocation:'middle',nameGap:21,nameTextStyle:{fontSize:26,color:'#000',fontFamily:FONT}},gx));
yAxes.push(Object.assign({gridIndex:G,type:'value',min:.0145,max:1.046,axisLine:{show:false},splitLine:{show:true,lineStyle:{color:'#fff',width:1.3}},
  name:'Normalized -Log10 (SVM FP Rate)',nameLocation:'middle',nameGap:24,nameTextStyle:{fontSize:26,color:'#000',fontFamily:FONT,padding:[0,16,0,0]}},gtick([.25,.5,.75,1],v=>v.toFixed(2))));
const deSize=v=>2+15*v[2];
series.push({type:'scatter',xAxisIndex:G,yAxisIndex:G,silent:true,z:4,symbol:'circle',data:gHemo,symbolSize:deSize,itemStyle:{color:'#2e8b57'},
  markLine:{silent:true,symbol:'none',label:{show:false},animation:false,z:1,lineStyle:{color:'#fff',width:.6,type:'solid'},
   data:minorLines('xAxis',[97.5,102.5,107.5,112.5]).concat(minorLines('yAxis',[.125,.375,.625,.875]))}});
series.push({type:'scatter',xAxisIndex:G,yAxisIndex:G,silent:true,z:5,symbol:'triangle',data:gIntest,symbolSize:deSize,itemStyle:{color:'#00c5cd'}});
series.push(labelSeries(G,gLabels,{size:20,color:DTXT,rotate:14}));

const chart=echarts.init(document.getElementById('c'),null,{renderer:'canvas',width:1671,height:1800});
chart.setOption({animation:false,backgroundColor:'#fff',textStyle:{fontFamily:FONT},tooltip:{show:false},
  grid:grids,xAxis:xAxes,yAxis:yAxes,visualMap:visualMaps,series:series,graphic:{elements:g}});
</script></body></html>
